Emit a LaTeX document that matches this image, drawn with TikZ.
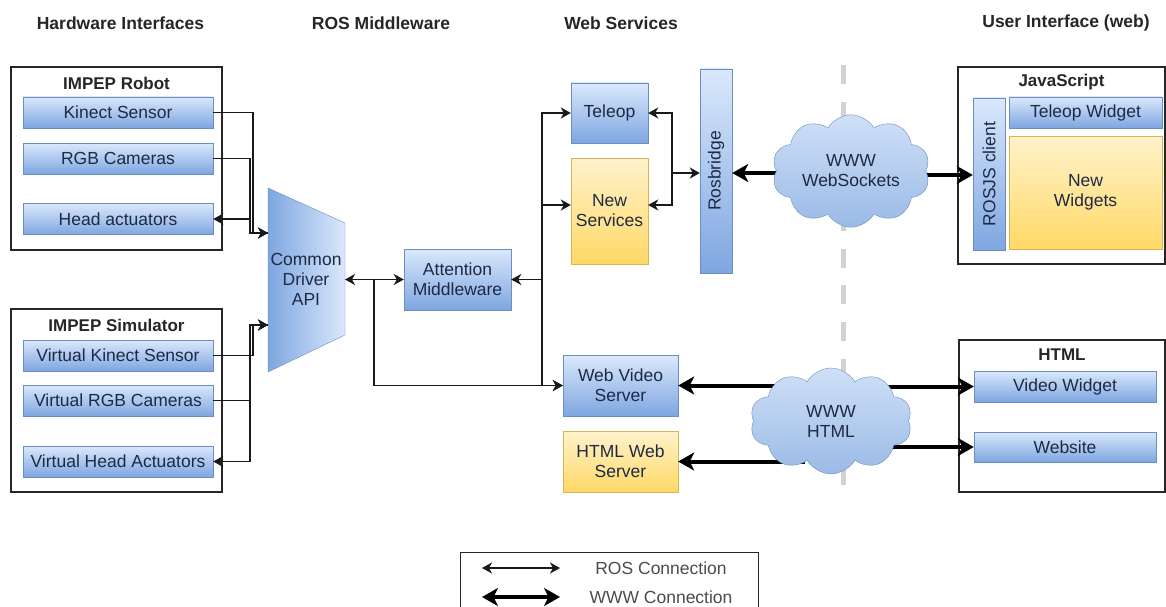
\documentclass[tikz,border=0pt]{standalone}
\usepackage{fontspec}
\setmainfont{Liberation Sans}
\usetikzlibrary{arrows.meta,shapes.symbols,calc}
\definecolor{bfill}{HTML}{DAE8FC}
\definecolor{bgrad}{HTML}{7EA6E0}
\definecolor{bline}{HTML}{6C8EBF}
\definecolor{yfill}{HTML}{FFF2CC}
\definecolor{ygrad}{HTML}{FFD966}
\definecolor{yline}{HTML}{D6B656}
\definecolor{txt}{HTML}{1E2A44}
\definecolor{sepgray}{HTML}{D2D2D2}
\definecolor{cfill}{HTML}{CFE0F7}
\definecolor{cgrad}{HTML}{9ABAE6}
\tikzset{
  every node/.style={font=\fontsize{17.5}{20}\selectfont, text=txt},
  bluebox/.style={rectangle, draw=bline, top color=bfill, bottom color=bgrad, inner sep=0pt, align=center},
  yellowbox/.style={rectangle, draw=yline, top color=yfill, bottom color=ygrad, inner sep=0pt, align=center},
  container/.style={rectangle, draw=black!85, line width=1.3pt, fill=white, inner sep=0pt},
  hdr/.style={font=\bfseries\fontsize{17.5}{20}\selectfont, text=black!85},
  ttl/.style={font=\bfseries\fontsize{17}{20}\selectfont, text=black!85},
  cloudnode/.style={cloud, cloud puffs=10, cloud puff arc=120, aspect=1.5, draw=bline, top color=cfill, bottom color=cgrad, inner sep=0pt, align=center},
  ros/.style={draw=black!90, line width=1.7pt, >={Stealth[length=10pt,width=11pt,inset=3pt]}},
  www/.style={draw=black, line width=4pt, >={Stealth[length=16pt,width=18pt,inset=4.5pt]}},
  sepline/.style={draw=sepgray, line width=5pt, dash pattern=on 19pt off 17.7pt},
  legtext/.style={text=black!70}
}
\begin{document}
\begin{tikzpicture}[x=1pt,y=-1pt]
\clip (0,0) rectangle (1166,607);
\fill[white] (0,0) rectangle (1166,607);

% headers
\node[hdr] (hHW) at (120.5,23) {Hardware Interfaces};
\node[hdr] (hROS) at (381,23) {ROS Middleware};
\node[hdr] (hWS) at (621,23) {Web Services};
\node[hdr] (hUI) at (1066,23) {User Interface (web)};

% separator
\coordinate (septop) at (843,65);
\coordinate (sepbot) at (843,485);
\draw[sepline] (septop) -- (sepbot);

% robot
\node[container, minimum width=211pt, minimum height=183pt] (robot) at (116.5,158.5) {};
\node[ttl] (robotT) at (116.5,83) {IMPEP Robot};
\node[bluebox, minimum width=190pt, minimum height=31pt] (kinect) at (118,112.5) {Kinect Sensor};
\node[bluebox, minimum width=190pt, minimum height=31pt] (rgb) at (118,158.5) {RGB Cameras};
\node[bluebox, minimum width=190pt, minimum height=31pt] (head) at (118,219) {Head actuators};

% simulator
\node[container, minimum width=211pt, minimum height=183pt] (sim) at (116.5,400.5) {};
\node[ttl] (simT) at (116.5,325) {IMPEP Simulator};
\node[bluebox, minimum width=190pt, minimum height=31pt] (vkinect) at (118,355.5) {Virtual Kinect Sensor};
\node[bluebox, minimum width=190pt, minimum height=31pt] (vrgb) at (118,400.5) {Virtual RGB Cameras};
\node[bluebox, minimum width=190pt, minimum height=31pt] (vhead) at (118,461.5) {Virtual Head Actuators};

% common driver
\path[draw=bline, left color=bgrad, right color=bfill] (268,188) -- (345,223) -- (345,335) -- (268,372) -- cycle;
\node[align=center] (cda) at (306,279) {Common\\Driver\\API};

% middleware and services
\node[bluebox, minimum width=107pt, minimum height=61pt] (attn) at (457.5,279.5) {Attention\\Middleware};
\node[bluebox, minimum width=77pt, minimum height=60pt] (teleop) at (609.5,113) {Teleop};
\node[yellowbox, minimum width=77pt, minimum height=106pt] (newsvc) at (609.5,211) {New\\Services};
\node[bluebox, rotate=90, minimum width=204pt, minimum height=32pt] (rosbridge) at (716,171) {Rosbridge};
\node[bluebox, minimum width=115pt, minimum height=61pt] (wvs) at (620.5,385.5) {Web Video\\Server};
\node[yellowbox, minimum width=115pt, minimum height=61pt] (htmlws) at (620.5,461.5) {HTML Web\\Server};

% javascript
\node[container, minimum width=207pt, minimum height=197pt] (js) at (1061.5,165.5) {};
\node[ttl] (jsT) at (1061.5,82) {JavaScript};
\node[bluebox, rotate=90, minimum width=152pt, minimum height=32pt] (rosjs) at (989,174) {ROSJS client};
\node[bluebox, minimum width=153pt, minimum height=31pt] (twidget) at (1085.5,112.5) {Teleop Widget};
\node[yellowbox, minimum width=153pt, minimum height=113pt] (newwidgets) at (1085.5,192.5) {New\\Widgets};

% html
\node[container, minimum width=206pt, minimum height=152pt] (html) at (1062,416) {};
\node[ttl] (htmlT) at (1062,355) {HTML};
\node[bluebox, minimum width=182pt, minimum height=31pt] (vwidget) at (1065,386.5) {Video Widget};
\node[bluebox, minimum width=182pt, minimum height=30pt] (website) at (1065,447) {Website};

% WWW connections (behind clouds)
\coordinate (c1L) at (800,173);
\coordinate (c1R) at (900,175);
\draw[www,->] (c1L) -- (c1L -| rosbridge.south);
\draw[www,->] (c1R) -- (c1R -| rosjs.north);
\coordinate (c2a) at (790,385.5);
\coordinate (c2b) at (805,461.5);
\coordinate (c2c) at (870,386.5);
\coordinate (c2d) at (870,447);
\draw[www,->] (c2a) -- (wvs.east);
\draw[www,->] (c2b) -- (htmlws.east);
\draw[www,->] (c2c) -- (vwidget.west);
\draw[www,->] (c2d) -- (website.west);

% clouds
\node[cloudnode, minimum width=158pt, minimum height=104pt] (cloud1) at (851,171) {WWW\\WebSockets};
\node[cloudnode, minimum width=162pt, minimum height=106pt] (cloud2) at (831,421) {WWW\\HTML};

% ROS connections
\coordinate (cdin1) at (268,233);
\coordinate (cdin2) at (268,325);
\coordinate (cdE) at (345,279.5);
\coordinate (j1) at (374,279.5);
\coordinate (bus) at (542,279.5);
\coordinate (rb) at (672,173);

\draw[ros,->] (kinect.east) -- ++(40,0) |- (cdin1);
\draw[ros,->] (rgb.east) -- ++(37,0) |- (cdin1);
\draw[ros,->] (cdin1) -| ($(head.east)+(37,0)$) -- (head.east);
\draw[ros,->] (vkinect.east) -- ++(40,0) |- (cdin2);
\draw[ros,->] (vrgb.east) -- ++(37,0) |- (cdin2);
\draw[ros,->] (cdin2) -| ($(vhead.east)+(37,0)$) -- (vhead.east);

\draw[ros,<->] (cdE) -- (attn.west);
\draw[ros,->] (j1) |- (wvs.west);
\draw[ros,->] (bus) -- (attn.east);
\draw[ros,->] (bus) |- (teleop.west);
\draw[ros,->] (bus) |- ($(newsvc.west)+(0,-6)$);
\draw[ros,->] (bus) |- (wvs.west);
\draw[ros,->] (rb) -- (rb -| rosbridge.north);
\draw[ros,->] (rb) |- (teleop.east);
\draw[ros,->] (rb) |- ($(newsvc.east)+(0,-6)$);

% legend
\node[container, line width=1pt, minimum width=298pt, minimum height=68pt] (legend) at (609,586) {};
\coordinate (l1a) at (482,568);
\coordinate (l1b) at (560,568);
\coordinate (l2a) at (482,597);
\coordinate (l2b) at (560,597);
\draw[ros,<->] (l1a) -- (l1b);
\draw[www,<->] (l2a) -- (l2b);
\node[legtext] (legros) at (661,568) {ROS Connection};
\node[legtext] (legwww) at (661,597) {WWW Connection};
\end{tikzpicture}
\end{document}
